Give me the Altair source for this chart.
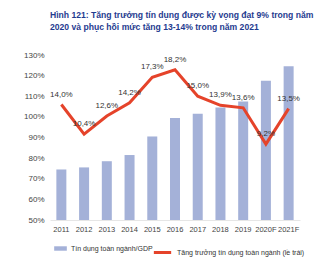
import altair as alt
import pandas as pd

years = ["2011", "2012", "2013", "2014", "2015", "2016", "2017", "2018", "2019", "2020F", "2021F"]
credit_gdp = [74.5, 75.5, 78.5, 81.5, 90.5, 99.5, 101.5, 104.5, 107.5, 117.5, 124.5]
credit_growth = [14.0, 10.4, 12.6, 14.2, 17.3, 18.2, 15.0, 13.9, 13.6, 9.2, 13.5]

bar_name = "Tín dụng toàn ngành/GDP"
line_name = "Tăng trưởng tín dụng toàn ngành (lề trái)"
title_lines = [
    "Hình 121: Tăng trưởng tín dụng được kỳ vọng đạt 9% trong năm",
    "2020 và phục hồi mức tăng 13-14% trong năm 2021",
]

df = pd.DataFrame({"year": years, "gdp": credit_gdp, "growth": credit_growth})
df["label"] = [f"{v:.1f}".replace(".", ",") + "%" for v in credit_growth]
df["bar_s"] = bar_name
df["line_s"] = line_name

FONT = "Liberation Sans"

x = alt.X("year:N", sort=years, title=None,
          scale=alt.Scale(paddingInner=0.56, paddingOuter=0.28),
          axis=alt.Axis(labelAngle=0, labelFontSize=7.5, labelColor="#444", ticks=False,
                        domain=True, domainColor="#e6e6e6", labelPadding=5))

base = alt.Chart(df)

bars = base.mark_bar(color="#a4b1d8").encode(
    x=x,
    y=alt.Y("gdp:Q", title=None,
            scale=alt.Scale(domain=[50, 130], zero=False, nice=False),
            axis=alt.Axis(values=list(range(50, 131, 10)), labelExpr="datum.value + '%'",
                          grid=False, domain=False, ticks=False, labelFontSize=8,
                          labelColor="#444", labelPadding=6)),
    y2=alt.datum(50),
    fill=alt.Fill("bar_s:N", title=None,
                  scale=alt.Scale(domain=[bar_name], range=["#a4b1d8"]),
                  legend=alt.Legend(orient="none", legendX=4, legendY=187,
                                    symbolType="M-1,-0.35H1V0.35H-1Z", symbolSize=160,
                                    labelFontSize=7, labelColor="#333", labelFont=FONT,
                                    symbolStrokeWidth=0)),
)

yr = alt.Y("growth:Q", title=None,
           scale=alt.Scale(domain=[0, 20], nice=False),
           axis=alt.Axis(orient="right", values=list(range(0, 21, 2)), labelExpr="datum.value + '%'",
                         grid=False, domain=False, ticks=False, labelFontSize=8,
                         labelColor="#444", labelPadding=6))

line = base.mark_line(strokeWidth=3).encode(
    x=x,
    y=yr,
    stroke=alt.Stroke("line_s:N", title=None,
                      scale=alt.Scale(domain=[line_name], range=["#e5432a"]),
                      legend=alt.Legend(orient="none", legendX=102, legendY=187,
                                        symbolType="stroke", symbolSize=300, symbolStrokeWidth=3,
                                        labelFontSize=7, labelColor="#333", labelFont=FONT)),
)

labels = base.mark_text(fontSize=8, color="#333", dy=-10, font=FONT).encode(
    x=x,
    y=alt.Y("growth:Q", scale=alt.Scale(domain=[0, 20], nice=False), axis=None),
    text="label:N",
)

right = alt.layer(line, labels)

chart = alt.layer(bars, right).resolve_scale(y="independent", fill="independent", stroke="independent").properties(
    width=250, height=165,
    padding={"left": 50, "top": 55, "right": 33, "bottom": 47},
    autosize=alt.AutoSizeParams(type="none"),
    title=alt.TitleParams(text=title_lines, anchor="start", frame="group", offset=0, dx=0, dy=-19,
                          fontSize=8.6, fontWeight="bold", color="#1f3b8f", font=FONT, lineHeight=12,
                          baseline="top"),
).configure_view(stroke=None).configure_axis(labelFont=FONT)

chart.save("out.html", embed_options={"renderer": "svg", "actions": False})
